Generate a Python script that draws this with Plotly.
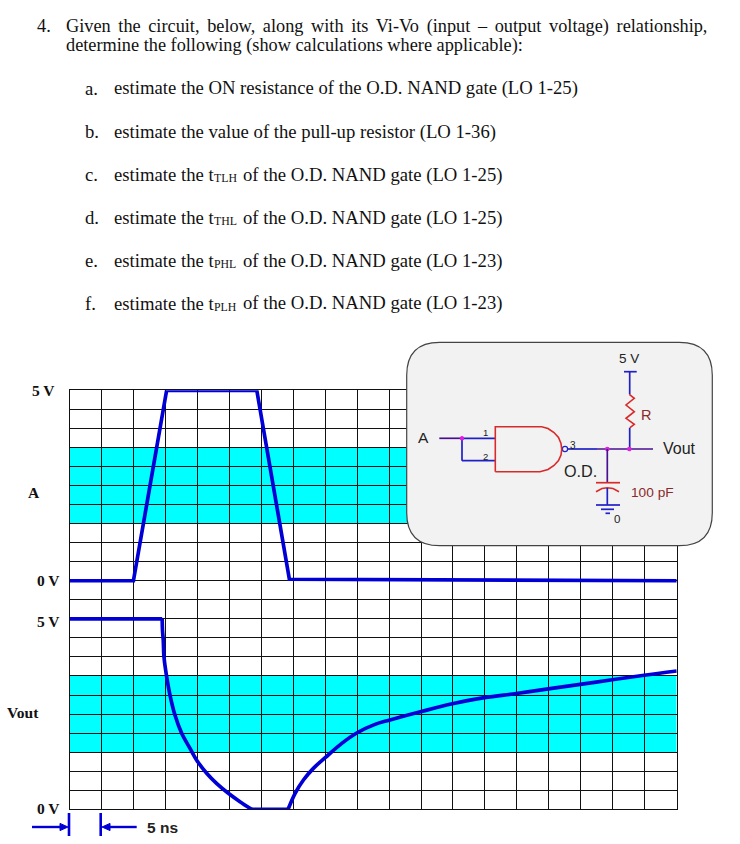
import plotly.graph_objects as go

W, H = 740, 844

# ---------- chart values ----------
time_a_ns = [0, 10, 15.2, 29.3, 34.4, 95]
volt_a = [0, 0, 5, 5, 0.04, 0.0]
time_out_ns = [0, 14.5, 14.55, 14.67, 14.78, 15.2, 15.72, 16.5, 17.55, 18.85, 19.9, 21.46, 23.0, 24.85, 26.67, 28.5,
               34.2, 35.3, 36.6, 38.15, 40.0, 42.6, 45.0, 47.8, 50.0, 54.9, 59.9, 64.9, 69.9, 74.9, 79.9, 84.9, 89.9, 95]
volt_out = [5, 5, 4.7, 4.44, 4.0, 3.48, 3.0, 2.475, 1.995, 1.6, 1.29, 0.945, 0.68, 0.42, 0.2, 0,
            0, 0.42, 0.77, 1.075, 1.355, 1.73, 2.01, 2.23, 2.34, 2.56, 2.77, 2.93, 3.04, 3.16, 3.28, 3.40, 3.52, 3.63]
threshold_low, threshold_high = 1.5, 3.5
question = ["Given\u200a\u200a the\u200a\u200a circuit,\u200a\u200a below,\u200a\u200a along\u200a\u200a with\u200a\u200a its\u200a\u200a Vi-Vo\u200a\u200a (input\u200a\u200a –\u200a\u200a output\u200a\u200a voltage)\u200a\u200a relationship,",
            "determine the following (show calculations where applicable):"]
item_labels = ["a.", "b.", "c.", "d.", "e.", "f."]
item_texts = ["estimate the ON resistance of the O.D. NAND gate (LO 1-25)",
              "estimate the value of the pull-up resistor (LO 1-36)",
              "estimate the t", "estimate the t", "estimate the t", "estimate the t"]
item_subs = ["", "", "TLH", "THL", "PHL", "PLH"]
item_tails = ["", "", "of the O.D. NAND gate (LO 1-25)", "of the O.D. NAND gate (LO 1-25)",
              "of the O.D. NAND gate (LO 1-23)", "of the O.D. NAND gate (LO 1-23)"]

# ---------- layout helpers (pixel -> paper) ----------
def px(x): return x / W
def py(y): return 1 - y / H

SERIF = "Liberation Serif"
SANS = "Liberation Sans"
BLUE = "#0000d6"
WIRE = "#2020c8"
PURPLE = "#4a0f90"
RED = "#d92a2a"
BROWN = "#8a2a2a"
INK = "#222222"

annotations, shapes = [], []

def text(x, y, s, size, color="#111111", family=SERIF, anchor="left", bold=False):
    if anchor == "left":
        x -= 2  # annotation inner padding
    annotations.append(dict(xref="paper", yref="paper", x=px(x), y=py(y), text=f"<b>{s}</b>" if bold else s,
                            showarrow=False, xanchor=anchor, yanchor="middle",
                            font=dict(size=size, color=color, family=family)))

def seg(x0, y0, x1, y1, color=WIRE, width=1.7):
    shapes.append(dict(type="line", xref="paper", yref="paper", x0=px(x0), y0=py(y0), x1=px(x1), y1=py(y1),
                       line=dict(color=color, width=width), layer="above"))

def path(points, color, width=1.6, fill=None, close=False):
    d = "M " + " L ".join(f"{px(a)},{py(b)}" for a, b in points) + (" Z" if close else "")
    shapes.append(dict(type="path", xref="paper", yref="paper", path=d, layer="above",
                       line=dict(color=color, width=width), fillcolor=fill or "rgba(0,0,0,0)"))

def dot(x, y, r, color, fill):
    shapes.append(dict(type="circle", xref="paper", yref="paper", x0=px(x - r), x1=px(x + r), y0=py(y + r), y1=py(y - r),
                       line=dict(color=color, width=1.2), fillcolor=fill, layer="above"))

# ---------- page text ----------
text(37, 26, "4.", 18.3)
text(66, 26, question[0], 18.3)
text(66, 45, question[1], 18.3)
for i, (lab, t, sub, tail) in enumerate(zip(item_labels, item_texts, item_subs, item_tails)):
    y = 88.5 + 43 * i
    text(85, y, lab, 18.7)
    text(114, y, t, 18.7)
    if sub:
        text(214, y + 3.7, sub, 11.8)
        text(242.5, y, tail, 18.7)

# ---------- left labels ----------
for x, y, s in [(43, 390.7, "5 V"), (33.5, 492, "A"), (48.5, 580.7, "0 V"), (48, 621.3, "5 V"), (23, 712.7, "Vout"), (48.5, 808, "0 V")]:
    text(x, y, s, 15.5, anchor="center", bold=True)

# ---------- cyan bands ----------
for yref in ("y2", "y"):
    shapes.append(dict(type="rect", xref="x", yref=yref, x0=time_a_ns[0], x1=time_a_ns[-1],
                       y0=threshold_low, y1=threshold_high, fillcolor="#00ffff", line_width=0, layer="below"))

# ---------- inset ----------
L, R, T, B, r = 406.7, 712.3, 342.3, 545.7, 33
box = (f"M {px(L+r)},{py(T)} L {px(R-r)},{py(T)} Q {px(R)},{py(T)} {px(R)},{py(T+r)} "
       f"L {px(R)},{py(B-r)} Q {px(R)},{py(B)} {px(R-r)},{py(B)} L {px(L+r)},{py(B)} "
       f"Q {px(L)},{py(B)} {px(L)},{py(B-r)} L {px(L)},{py(T+r)} Q {px(L)},{py(T)} {px(L+r)},{py(T)} Z")
shapes.append(dict(type="path", xref="paper", yref="paper", path=box, layer="above",
                   fillcolor="#f2f2f2", line=dict(color="#444444", width=1.2)))

seg(624, 371.7, 636.7, 371.7)
seg(629.7, 371.7, 629.7, 394.3)
path([(629.3, 394.3), (634.3, 398.3), (626, 405), (634.3, 411.7), (626, 418.3), (634.3, 424.3), (630, 427.7)], RED)
seg(629.7, 427.7, 629.7, 449)
seg(568, 449, 597, 449)
seg(597, 449, 653, 449, PURPLE)
dot(565, 449, 2.6, WIRE, "rgba(0,0,0,0)")
seg(439.3, 438.3, 462, 438.3, PURPLE)
seg(462, 438.3, 496, 438.3)
seg(462, 438.3, 462, 460.7)
seg(462, 460.7, 496, 460.7)
arc = [(541.7, 426.7), (548, 428.5), (554, 432.5), (558.5, 437.5), (561, 443.5), (561.7, 449.5),
       (561, 455), (558.5, 460.5), (554, 465.5), (548, 469.5), (540, 471.7)]
path([(495.3, 471.7), (495.3, 426.7)] + arc + [(495.3, 471.7)], RED, 1.6)
dot(462, 438.3, 1.7, "#e020e0", "#e020e0")
dot(607.3, 449, 1.7, "#e020e0", "#e020e0")
dot(629.3, 449, 1.7, "#e020e0", "#e020e0")
seg(607.3, 449, 607.3, 482.7, PURPLE)
seg(596, 482.7, 620, 482.7, RED, 1.7)
path([(596, 491.7), (602, 488.5), (607.3, 487.7), (613, 488.5), (619, 491.7)], RED)
seg(607.3, 488, 607.3, 505)
seg(596, 505, 620, 505)
seg(601, 509.3, 614, 509.3)
seg(605.5, 513.3, 610, 513.3)

text(629.3, 359, "5 V", 13.5, INK, SANS, "center")
text(646, 415, "R", 14.5, BROWN, SANS, "center")
text(679.3, 448.5, "Vout", 16, INK, SANS, "center")
text(423.3, 437.5, "A", 15.5, INK, SANS, "center")
text(580, 470.7, "O.D.", 16.2, INK, SANS, "center")
text(652.3, 493, "100 pF", 13.7, BROWN, SANS, "center")
text(573.3, 445, "3", 10, INK, SANS, "center")
text(485, 432.8, "1", 9.5, INK, SANS, "center")
text(485, 456.3, "2", 9.5, INK, SANS, "center")
text(617, 518.5, "0", 11.5, INK, SANS, "center")

# ---------- 5 ns scale marker ----------
seg(69, 813, 69, 836, BLUE, 2.6)
seg(100.7, 813, 100.7, 836, BLUE, 2.6)
seg(32, 827, 62, 827, BLUE, 2.4)
seg(107, 827, 136.7, 827, BLUE, 2.4)
path([(60, 823.4), (68, 827), (60, 830.6)], BLUE, 1, BLUE, True)
path([(110, 823.4), (102, 827), (110, 830.6)], BLUE, 1, BLUE, True)
text(147, 827.5, "5 ns", 15.5, INK, SANS, bold=True)

# ---------- figure ----------
LINE_W = 3.7
fig = go.Figure()
fig.add_trace(go.Scatter(x=time_a_ns, y=volt_a, yaxis="y2", mode="lines",
                         line=dict(color=BLUE, width=LINE_W, simplify=False), showlegend=False, hoverinfo="skip"))
# Vout: straight pieces stay straight, the RC fall and rise are drawn as smooth curves
for i0, i1, shape in [(0, 1, "linear"), (1, 15, "spline"), (15, 16, "linear"), (16, len(time_out_ns) - 1, "spline")]:
    fig.add_trace(go.Scatter(x=time_out_ns[i0:i1 + 1], y=volt_out[i0:i1 + 1], mode="lines",
                             line=dict(color=BLUE, width=LINE_W, shape=shape, simplify=False),
                             showlegend=False, hoverinfo="skip"))

fig.update_layout(
    width=W, height=H, margin=dict(l=0, r=0, t=0, b=0), autosize=False,
    paper_bgcolor="white", plot_bgcolor="white", showlegend=False,
    xaxis=dict(domain=[px(69.5), px(676.7)], range=[0, 95], dtick=5, showgrid=True, gridcolor="#111111", gridwidth=1,
               zeroline=False, showticklabels=False, ticks="", showline=True, linecolor="#111111", linewidth=1, mirror=True),
    yaxis=dict(domain=[py(809.3), py(390.3)], range=[0, 11], dtick=0.5, showgrid=True, gridcolor="#111111", gridwidth=1,
               zeroline=False, showticklabels=False, ticks="", showline=True, linecolor="#111111", linewidth=1, mirror=True),
    yaxis2=dict(domain=[py(809.3), py(390.3)], range=[-6, 5], overlaying="y", anchor="x", showgrid=False, zeroline=False,
                showticklabels=False, ticks="", showline=False),
    annotations=annotations, shapes=shapes,
)

fig.write_html("out.html", config={"displayModeBar": False},
               post_script="document.body.style.margin='0';document.body.style.overflow='hidden';")
